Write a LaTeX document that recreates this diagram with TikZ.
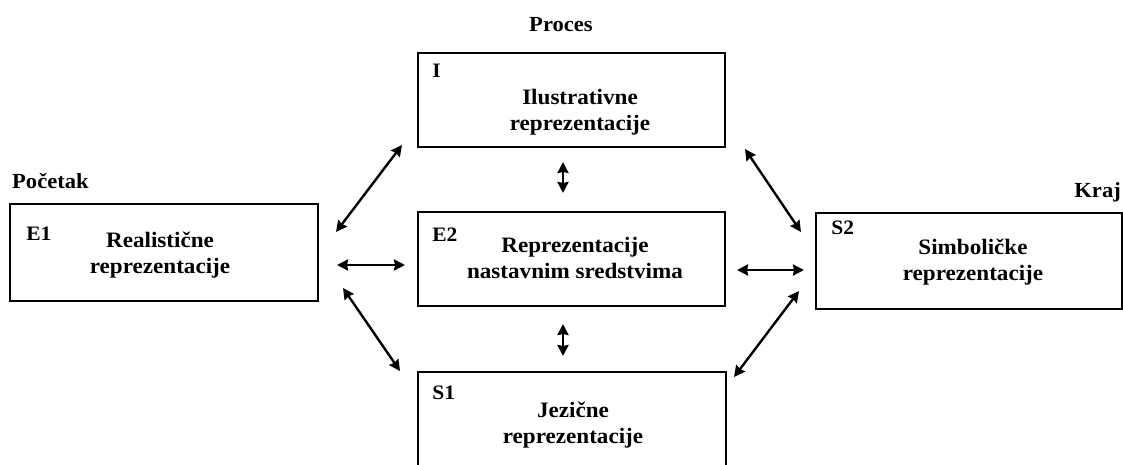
\documentclass[tikz,border=0pt]{standalone}
\usepackage{fontspec}
\setmainfont{Liberation Serif}[FakeStretch=1.05]
\usetikzlibrary{arrows.meta,calc}
\tikzset{
  box/.style={draw=black, line width=1.8pt, minimum width=#1, inner sep=0pt},
  boxtext/.style={align=center, font=\bfseries\fontsize{22}{25.5}\selectfont, inner sep=0pt},
  tag/.style={font=\bfseries\fontsize{20.5}{24}\selectfont, inner sep=0pt, anchor=base west},
  title/.style={font=\bfseries\fontsize{21.5}{25}\selectfont, inner sep=0pt},
  link/.style={line width=2.4pt, {Stealth[length=11pt,width=11pt,inset=1pt]}-{Stealth[length=11pt,width=11pt,inset=1pt]}}
}
\begin{document}
\begin{tikzpicture}[x=1pt,y=-1pt]
\clip (0,0) rectangle (1123,465);
\fill[white] (0,0) rectangle (1123,465);

% boxes
\node[box=308pt, minimum height=97pt] (E1) at (164,252.5) {};
\node[box=307pt, minimum height=94pt] (I)  at (571.5,100) {};
\node[box=307pt, minimum height=94pt] (E2) at (571.5,259) {};
\node[box=308pt, minimum height=100pt] (S1) at (572,422) {};
\node[box=306pt, minimum height=96pt] (S2) at (969,261) {};

% box texts
\node[boxtext] (E1t) at (160,255) {Realistične\\reprezentacije};
\node[boxtext] (It)  at (580,112) {Ilustrativne\\reprezentacije};
\node[boxtext] (E2t) at (575,258) {Reprezentacije\\nastavnim sredstvima};
\node[boxtext] (S1t) at (573,425) {Jezične\\reprezentacije};
\node[boxtext] (S2t) at (973,262) {Simboličke\\reprezentacije};

% tags
\node[tag] (E1g) at ($(E1.north west)+(17,37)$) {E1};
\node[tag] (Ig)  at ($(I.north west)+(15,25)$) {I};
\node[tag] (E2g) at ($(E2.north west)+(15,30)$) {E2};
\node[tag] (S1g) at ($(S1.north west)+(15,28)$) {S1};
\node[tag] (S2g) at ($(S2.north west)+(16,22)$) {S2};

% titles
\node[title, anchor=base west] (poc) at (12,188) {Početak};
\node[title, anchor=base west] (pro) at (529,32) {Proces};
\node[title, anchor=base east] (kra) at (1121,197) {Kraj};

% connector ends
\coordinate (a1s) at (336,232); \coordinate (a1e) at (402,145);
\coordinate (a2s) at (337,265); \coordinate (a2e) at (405,265);
\coordinate (a3s) at (343,288); \coordinate (a3e) at (400,371);
\coordinate (a4s) at (563,162); \coordinate (a4e) at (563,193);
\coordinate (a5s) at (563,324); \coordinate (a5e) at (563,356);
\coordinate (a6s) at (745,149); \coordinate (a6e) at (801,232);
\coordinate (a7s) at (737,270); \coordinate (a7e) at (804,270);
\coordinate (a8s) at (799,291); \coordinate (a8e) at (734,377);

\draw[link] (a1s) -- (a1e);
\draw[link] (a2s) -- (a2e);
\draw[link] (a3s) -- (a3e);
\draw[link] (a4s) -- (a4e);
\draw[link] (a5s) -- (a5e);
\draw[link] (a6s) -- (a6e);
\draw[link] (a7s) -- (a7e);
\draw[link] (a8s) -- (a8e);
\end{tikzpicture}
\end{document}
